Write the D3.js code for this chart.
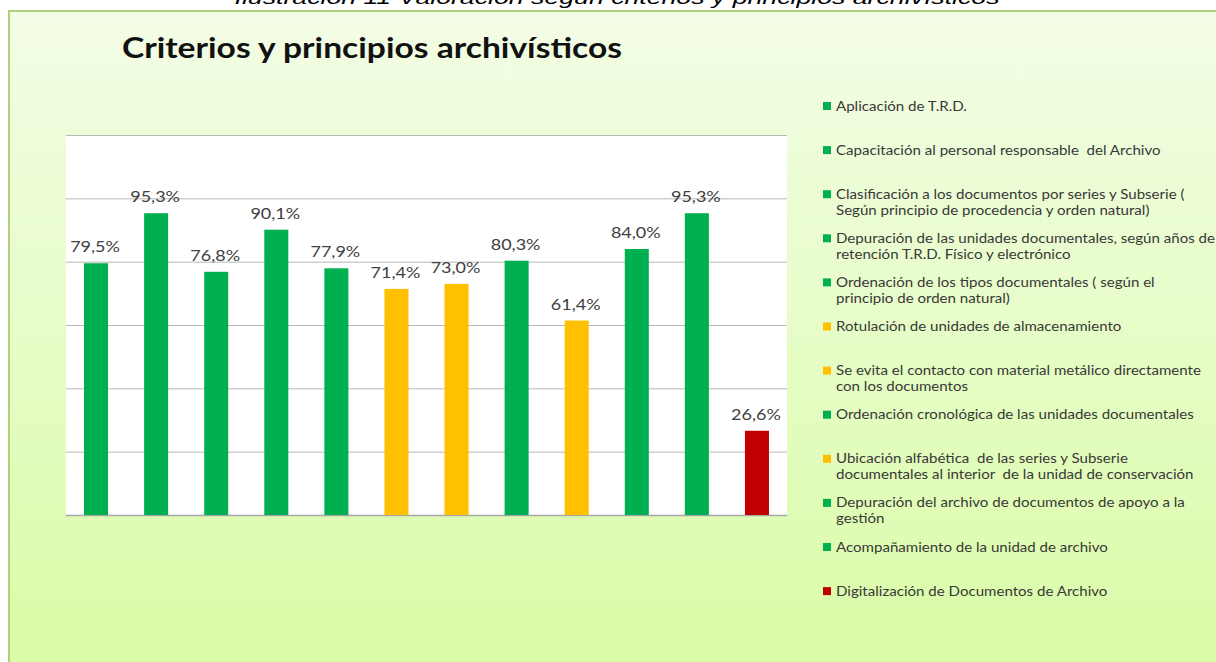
<!DOCTYPE html>
<html lang="es">
<head>
<meta charset="utf-8">
<title>Criterios y principios archivísticos</title>
<script src="https://cdn.jsdelivr.net/npm/d3@7/dist/d3.min.js"></script>
<style>
  html, body { margin: 0; padding: 0; background: #ffffff; }
  svg { display: block; }
  text { font-family: Lato, "Open Sans", sans-serif; }
</style>
</head>
<body>
<svg id="chart" width="1216" height="662"></svg>
<script>
// Categorías (una por barra), con saltos de línea para la leyenda
const categories = [
  "Aplicación de T.R.D.",
  "Capacitación al personal responsable  del Archivo",
  "Clasificación a los documentos por series y Subserie (\nSegún principio de procedencia y orden natural)",
  "Depuración de las unidades documentales, según años de\nretención T.R.D. Físico y electrónico",
  "Ordenación de los tipos documentales ( según el\nprincipio de orden natural)",
  "Rotulación de unidades de almacenamiento",
  "Se evita el contacto con material metálico directamente\ncon los documentos",
  "Ordenación cronológica de las unidades documentales",
  "Ubicación alfabética  de las series y Subserie\ndocumentales al interior  de la unidad de conservación",
  "Depuración del archivo de documentos de apoyo a la\ngestión",
  "Acompañamiento de la unidad de archivo",
  "Digitalización de Documentos de Archivo"
];

// Porcentaje de cumplimiento de cada criterio
const values = [79.5, 95.3, 76.8, 90.1, 77.9, 71.4, 73.0, 80.3, 61.4, 84.0, 95.3, 26.6];

// Nivel de cumplimiento (semáforo) de cada criterio
const levels = ["alto", "alto", "alto", "alto", "alto", "medio", "medio", "alto", "medio", "alto", "alto", "bajo"];

// Líneas de división del eje vertical (%)
const gridTicks = [0, 20, 40, 60, 80, 100, 120];

const chartTitle = "Criterios y principios archivísticos";
const caption = "Ilustración 11 Valoración según criterios y principios archivísticos";

const color = d3.scaleOrdinal()
  .domain(["alto", "medio", "bajo"])
  .range(["#00b050", "#ffc000", "#c00000"]);

const svg = d3.select("#chart");
const W = 1216, H = 662;
const stretch = 1.16; // ensanchamiento horizontal del texto

// Fondo del área del gráfico con degradado verde claro
const defs = svg.append("defs");
const grad = defs.append("linearGradient")
  .attr("id", "bg").attr("x1", 0).attr("y1", 0).attr("x2", 0).attr("y2", 1);
grad.append("stop").attr("offset", "0%").attr("stop-color", "#f3fde6");
grad.append("stop").attr("offset", "100%").attr("stop-color", "#d9fca5");

svg.append("rect")
  .attr("x", 9).attr("y", 11)
  .attr("width", W + 10).attr("height", H + 10)
  .attr("fill", "url(#bg)")
  .attr("stroke", "#aed17a").attr("stroke-width", 2);

// Pie de ilustración en la parte superior
svg.append("text")
  .attr("x", 617).attr("y", 4)
  .attr("text-anchor", "middle")
  .attr("font-style", "italic")
  .attr("font-size", 19)
  .attr("fill", "#000")
  .attr("textLength", 765)
  .attr("lengthAdjust", "spacingAndGlyphs")
  .style("font-family", "'Liberation Sans', Arial, sans-serif")
  .text(caption);

// Título
svg.append("text")
  .attr("x", 122).attr("y", 58)
  .attr("font-weight", 700)
  .attr("font-size", 28)
  .attr("fill", "#111")
  .attr("textLength", 500)
  .attr("lengthAdjust", "spacingAndGlyphs")
  .text(chartTitle);

// Área de trazado
const plot = { left: 66, right: 787, top: 135, bottom: 515 };

const x = d3.scaleBand()
  .domain(d3.range(categories.length))
  .range([plot.left, plot.right])
  .paddingInner(0.6)
  .paddingOuter(0.3);

const y = d3.scaleLinear()
  .domain([0, 120])
  .range([plot.bottom, plot.top]);

svg.append("rect")
  .attr("x", plot.left).attr("y", plot.top)
  .attr("width", plot.right - plot.left).attr("height", plot.bottom - plot.top)
  .attr("fill", "#ffffff");

// Líneas de cuadrícula horizontales mediante el eje de D3
const gridAxis = d3.axisLeft(y)
  .tickValues(gridTicks)
  .tickSize(-(plot.right - plot.left))
  .tickFormat("");

const grid = svg.append("g")
  .attr("transform", `translate(${plot.left},0)`)
  .call(gridAxis);
grid.select(".domain").remove();
grid.selectAll(".tick line")
  .attr("stroke", d => d === 0 ? "#a6a6a6" : "#b8b8b8")
  .attr("stroke-width", d => d === 0 ? 1.5 : 1);

// Barras
svg.append("g")
  .selectAll("rect")
  .data(values)
  .join("rect")
  .attr("x", (d, i) => x(i))
  .attr("y", d => y(d))
  .attr("width", x.bandwidth())
  .attr("height", d => y(0) - y(d))
  .attr("fill", (d, i) => color(levels[i]));

// Etiquetas de valor
const fmt = v => v.toFixed(1).replace(".", ",") + "%";
svg.append("g")
  .selectAll("text")
  .data(values)
  .join("text")
  .attr("transform", (d, i) =>
    `translate(${x(i) + x.bandwidth() / 2 - 1},${y(d) - 11}) scale(${stretch},1)`)
  .attr("text-anchor", "middle")
  .attr("font-size", 15.5)
  .attr("fill", "#404040")
  .text(fmt);

// Leyenda
const legend = svg.append("g")
  .attr("transform", "translate(823,0)");

const item = legend.selectAll("g")
  .data(categories)
  .join("g")
  .attr("transform", (d, i) => `translate(0,${106 + i * 44.1})`);

item.append("rect")
  .attr("x", 0).attr("y", -4)
  .attr("width", 8).attr("height", 8)
  .attr("fill", (d, i) => color(levels[i]));

item.append("text")
  .attr("transform", `translate(13,0) scale(${stretch},1)`)
  .attr("font-size", 13)
  .attr("fill", "#383838")
  .style("white-space", "pre")
  .selectAll("tspan")
  .data(d => d.split("\n"))
  .join("tspan")
  .attr("x", 0)
  .attr("y", (d, j) => 4.5 + j * 16)
  .text(d => d);
</script>
</body>
</html>
